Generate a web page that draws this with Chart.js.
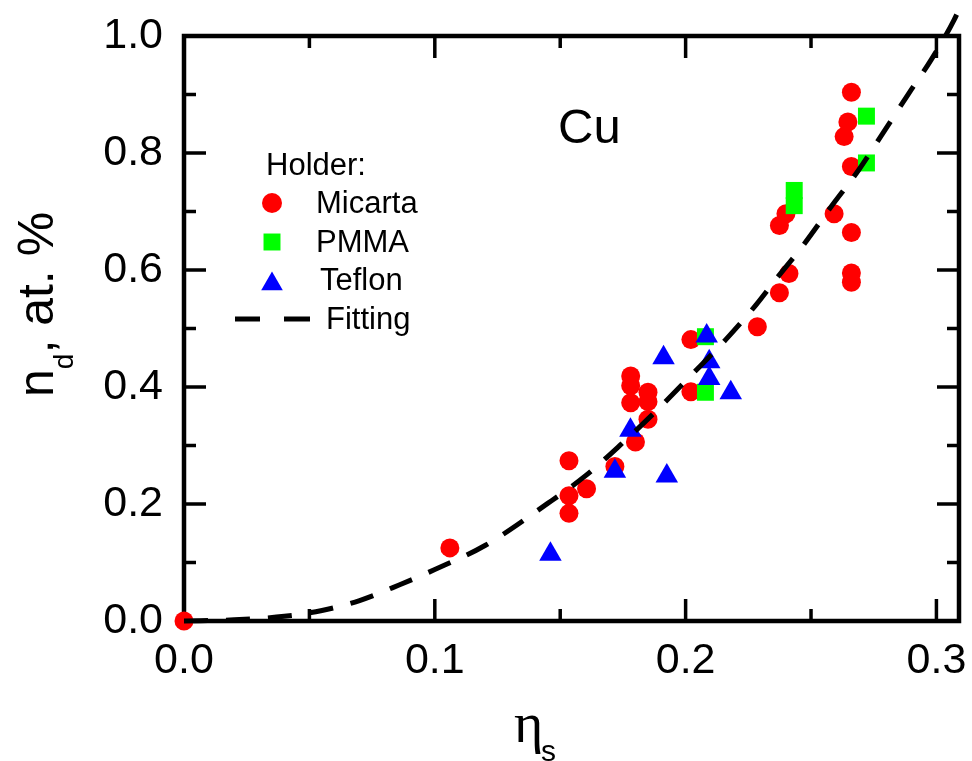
<!DOCTYPE html>
<html>
<head>
<meta charset="utf-8">
<script src="https://cdn.jsdelivr.net/npm/chart.js@4.4.0/dist/chart.umd.min.js"></script>
<style>
html, body { margin: 0; padding: 0; background: #fff; }
</style>
</head>
<body>
<canvas id="scatterChart" width="972" height="761"></canvas>
<script>
// data
var micartaX = [0, 0.106, 0.1535, 0.1605, 0.1535, 0.1535, 0.1718, 0.1781, 0.1781, 0.1781, 0.185, 0.185, 0.185, 0.180, 0.2021, 0.2021, 0.2286, 0.2374, 0.2412, 0.2374, 0.240, 0.2592, 0.2661, 0.2661, 0.2661, 0.2661, 0.2632, 0.2647, 0.2661];
var micartaY = [0, 0.125, 0.274, 0.226, 0.214, 0.184, 0.264, 0.419, 0.402, 0.373, 0.391, 0.375, 0.345, 0.306, 0.481, 0.392, 0.503, 0.561, 0.594, 0.676, 0.696, 0.696, 0.664, 0.595, 0.579, 0.777, 0.828, 0.853, 0.904];

var pmmaX = [0.2721, 0.2721, 0.2433, 0.2433, 0.2079, 0.2079];
var pmmaY = [0.863, 0.783, 0.736, 0.710, 0.486, 0.391];

var teflonX = [0.1461, 0.1912, 0.2084, 0.2094, 0.2094, 0.218, 0.178, 0.1718, 0.1925];
var teflonY = [0.114, 0.450, 0.487, 0.443, 0.4145, 0.390, 0.326, 0.256, 0.248];

var fitX = [0, 0.02, 0.04, 0.055, 0.07, 0.086, 0.1, 0.12, 0.145, 0.16, 0.174, 0.188, 0.202, 0.216, 0.228, 0.236, 0.247, 0.258, 0.269, 0.279, 0.289, 0.298, 0.307, 0.3105];
var fitY = [0, 0.002, 0.008, 0.018, 0.035, 0.062, 0.088, 0.129, 0.201, 0.248, 0.301, 0.358, 0.419, 0.481, 0.540, 0.584, 0.643, 0.708, 0.771, 0.836, 0.902, 0.960, 1.027, 1.060];

var xTicks = [0, 0.1, 0.2, 0.3];
var yTicks = [0, 0.2, 0.4, 0.6, 0.8, 1.0];

function pts(xs, ys) {
  return xs.map(function (x, i) { return { x: x, y: ys[i] }; });
}

var sans = "'Liberation Sans', Arial, sans-serif";

function marker(ctx, style, x, y, r, color) {
  ctx.fillStyle = color;
  ctx.beginPath();
  if (style === 'circle') {
    ctx.arc(x, y, r, 0, Math.PI * 2);
  } else if (style === 'rect') {
    var s = r * Math.SQRT1_2;
    ctx.rect(x - s, y - s, 2 * s, 2 * s);
  } else {
    var a = 0;
    ctx.moveTo(x + Math.sin(a) * r, y - Math.cos(a) * r);
    a += 2 * Math.PI / 3;
    ctx.lineTo(x + Math.sin(a) * r, y - Math.cos(a) * r);
    a += 2 * Math.PI / 3;
    ctx.lineTo(x + Math.sin(a) * r, y - Math.cos(a) * r);
    ctx.closePath();
  }
  ctx.fill();
}

// box + inward ticks on all four sides
var frame = {
  id: 'frame',
  beforeDatasetsDraw: function (chart) {
    var ctx = chart.ctx, a = chart.chartArea;
    var xs = chart.scales.x, ys = chart.scales.y;
    ctx.save();
    ctx.strokeStyle = '#000';
    ctx.lineWidth = 3.5;
    ctx.beginPath();
    var xStep = xTicks[1] - xTicks[0];
    xTicks.forEach(function (v) {
      var p = xs.getPixelForValue(v);
      ctx.moveTo(p, a.bottom); ctx.lineTo(p, a.bottom - 22);
      ctx.moveTo(p, a.top); ctx.lineTo(p, a.top + 22);
      var m = v + xStep / 2;
      if (m < xs.max) {
        p = xs.getPixelForValue(m);
        ctx.moveTo(p, a.bottom); ctx.lineTo(p, a.bottom - 12);
        ctx.moveTo(p, a.top); ctx.lineTo(p, a.top + 12);
      }
    });
    var yStep = yTicks[1] - yTicks[0];
    yTicks.forEach(function (v) {
      var p = ys.getPixelForValue(v);
      ctx.moveTo(a.left, p); ctx.lineTo(a.left + 22, p);
      ctx.moveTo(a.right, p); ctx.lineTo(a.right - 22, p);
      var m = v + yStep / 2;
      if (m < ys.max) {
        p = ys.getPixelForValue(m);
        ctx.moveTo(a.left, p); ctx.lineTo(a.left + 12, p);
        ctx.moveTo(a.right, p); ctx.lineTo(a.right - 12, p);
      }
    });
    ctx.stroke();
    ctx.lineWidth = 4.5;
    ctx.strokeRect(a.left, a.top, a.right - a.left, a.bottom - a.top);
    ctx.restore();
  }
};

// titles, label and legend
var texts = {
  id: 'texts',
  afterDraw: function (chart) {
    var ctx = chart.ctx;
    ctx.save();
    ctx.fillStyle = '#000';
    ctx.textBaseline = 'alphabetic';
    ctx.textAlign = 'left';

    // y title
    ctx.save();
    ctx.translate(53, 397);
    ctx.rotate(-Math.PI / 2);
    ctx.font = '50px ' + sans;
    var w1 = ctx.measureText('n').width;
    ctx.fillText('n', 0, 0);
    ctx.font = '28px ' + sans;
    ctx.fillText('d', w1, 20);
    var w2 = ctx.measureText('d').width;
    ctx.font = '50px ' + sans;
    ctx.fillText(', at. %', w1 + w2, 0);
    ctx.restore();

    // x title
    ctx.font = "56px 'Liberation Serif', 'Times New Roman', serif";
    ctx.fillText('\u03b7', 514, 742);
    ctx.font = '30px ' + sans;
    ctx.fillText('s', 541, 761);

    // element label
    ctx.font = '49px ' + sans;
    ctx.fillText('Cu', 558, 143);

    // legend
    ctx.font = '31px ' + sans;
    ctx.fillText('Holder:', 266, 175);
    var ds = chart.data.datasets;
    marker(ctx, 'circle', 272, 203, 10, ds[3].backgroundColor);
    ctx.fillStyle = '#000';
    ctx.fillText(ds[3].label, 316, 213);
    marker(ctx, 'rect', 272, 242, 12, ds[2].backgroundColor);
    ctx.fillStyle = '#000';
    ctx.fillText(ds[2].label, 316, 252);
    marker(ctx, 'triangle', 272, 284, 12.5, ds[1].backgroundColor);
    ctx.fillStyle = '#000';
    ctx.fillText(ds[1].label, 320, 290);
    ctx.strokeStyle = '#000';
    ctx.lineWidth = 5;
    ctx.beginPath();
    ctx.moveTo(235, 319); ctx.lineTo(260, 319);
    ctx.moveTo(284, 319); ctx.lineTo(310, 319);
    ctx.stroke();
    ctx.fillText(ds[0].label, 326, 329);
    ctx.restore();
  }
};

var ctxS = document.getElementById('scatterChart').getContext('2d');
var myChart = new Chart(ctxS, {
  type: 'scatter',
  data: {
    datasets: [{
      label: 'Fitting',
      type: 'line',
      data: pts(fitX, fitY),
      borderColor: '#000',
      borderWidth: 5,
      borderDash: [24, 18],
      pointRadius: 0,
      fill: false,
      tension: 0.4,
      cubicInterpolationMode: 'monotone',
      clip: false,
      order: 0
    }, {
      label: 'Teflon',
      data: pts(teflonX, teflonY),
      pointStyle: 'triangle',
      pointRadius: 13,
      backgroundColor: '#0000ff',
      borderColor: '#0000ff',
      pointBorderWidth: 0,
      clip: false,
      order: 1
    }, {
      label: 'PMMA',
      data: pts(pmmaX, pmmaY),
      pointStyle: 'rect',
      pointRadius: 12,
      backgroundColor: '#00ff00',
      borderColor: '#00ff00',
      pointBorderWidth: 0,
      clip: false,
      order: 2
    }, {
      label: 'Micarta',
      data: pts(micartaX, micartaY),
      pointStyle: 'circle',
      pointRadius: 9.5,
      backgroundColor: '#ff0000',
      borderColor: '#ff0000',
      pointBorderWidth: 0,
      clip: false,
      order: 3
    }]
  },
  options: {
    responsive: false,
    devicePixelRatio: 1,
    animation: false,
    events: [],
    layout: { padding: { top: 36, right: 10, left: 0, bottom: 0 } },
    plugins: {
      legend: { display: false },
      tooltip: { enabled: false }
    },
    scales: {
      x: {
        type: 'linear',
        min: 0,
        max: 0.309,
        afterBuildTicks: function (s) { s.ticks = xTicks.map(function (v) { return { value: v }; }); },
        afterFit: function (s) {
          s.height = 140;
          s.paddingLeft = 0; s.paddingRight = 0; s.paddingTop = 0; s.paddingBottom = 0;
        },
        grid: { display: false, drawTicks: false },
        border: { display: false },
        ticks: {
          color: '#000',
          font: { family: sans, size: 43 },
          padding: 14,
          maxRotation: 0,
          autoSkip: false,
          callback: function (v) { return v.toFixed(1); }
        }
      },
      y: {
        type: 'linear',
        min: 0,
        max: 1,
        afterBuildTicks: function (s) { s.ticks = yTicks.map(function (v) { return { value: v }; }); },
        afterFit: function (s) {
          s.width = 184;
          s.paddingLeft = 0; s.paddingRight = 0; s.paddingTop = 0; s.paddingBottom = 0;
        },
        grid: { display: false, drawTicks: false },
        border: { display: false },
        ticks: {
          color: '#000',
          font: { family: sans, size: 43 },
          padding: 21,
          autoSkip: false,
          callback: function (v) { return v.toFixed(1); }
        }
      }
    }
  },
  plugins: [frame, texts]
});
</script>
</body>
</html>
